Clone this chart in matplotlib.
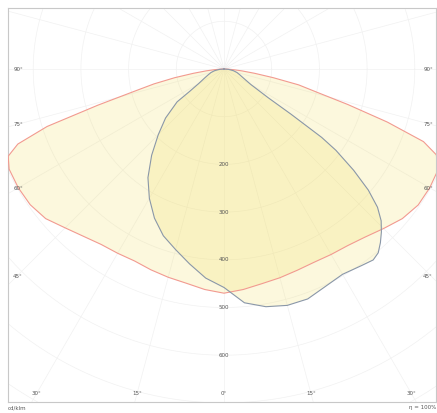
import numpy as np
import matplotlib.pyplot as plt

# Lichtstärkeverteilung in cd/klm, gamma = 0° zeigt nach unten
gamma_red = [0, 5, 10, 15, 20, 25, 30, 35, 40, 45, 50, 55, 60, 65, 68, 70, 72, 74, 76, 78, 80, 82, 84, 86, 88, 90]
red_left = [470, 464, 456, 452, 448, 444, 446, 449, 458, 471, 488, 496, 498, 497, 488, 460, 390, 275, 195, 150, 105, 65, 38, 20, 8, 0]
red_right = [470, 464, 457, 453, 449, 447, 449, 452, 460, 473, 488, 497, 498, 496, 480, 445, 360, 270, 200, 160, 105, 65, 38, 20, 8, 0]

gamma_blue_left = [0, 5, 10, 15, 20, 25, 30, 35, 40, 45, 50, 55, 57, 60, 65, 70, 75, 80, 85, 90]
blue_left = [458, 440, 415, 392, 372, 345, 313, 278, 236, 195, 160, 120, 85, 62, 45, 35, 28, 20, 10, 0]

gamma_blue_right = [0, 5, 10, 15, 20, 25, 30, 35, 38, 40, 42, 44, 46, 48, 50, 52, 54, 55, 56, 57, 60, 65, 70, 75, 80, 85, 90]
blue_right = [472, 492, 506, 513, 513, 503, 497, 503, 508, 503, 490, 475, 458, 433, 395, 345, 290, 250, 170, 110, 65, 45, 35, 28, 20, 10, 0]

ring_values = [200, 300, 400, 500, 600]
side_angles = [90, 75, 60, 45]
bottom_angles = [-30, -15, 0, 15, 30]

UNIT = 100.0  # cd/klm pro Gitterring


def to_xy(gammas, values, side):
    """Polarwerte (gamma, I) in x/y umrechnen, side=-1 links, +1 rechts"""
    g = np.radians(np.asarray(gammas, dtype=float))
    r = np.asarray(values, dtype=float) / UNIT
    return side * r * np.sin(g), -r * np.cos(g)


def outline(gammas_l, vals_l, gammas_r, vals_r):
    xl, yl = to_xy(gammas_l, vals_l, -1)
    xr, yr = to_xy(gammas_r, vals_r, 1)
    x = np.concatenate([xl[::-1], xr[1:]])
    y = np.concatenate([yl[::-1], yr[1:]])
    return x, y


fig = plt.figure(figsize=(4.37, 4.13), dpi=100)
ax = fig.add_axes([8 / 437, 11 / 413, 428 / 437, 394 / 413])
ax.set_xlim(-4.528, 4.444)
ax.set_ylim(-6.981, 1.279)
ax.set_aspect('equal')
ax.set_xticks([])
ax.set_yticks([])
for s in ax.spines.values():
    s.set_color('#c8c8c8')
    s.set_linewidth(0.8)

# Gitter: Ringe und Strahlen alle 15° (sehr blass)
t = np.linspace(0, 2 * np.pi, 400)
for r in range(1, 10):
    ax.plot(r * np.cos(t), r * np.sin(t), color='#f1f1f1', lw=0.5, zorder=0)
for a in range(0, 360, 15):
    ar = np.radians(a)
    ax.plot([0, 10 * np.cos(ar)], [0, 10 * np.sin(ar)], color='#f1f1f1', lw=0.5, zorder=0)

# C0/C180 und C90/C270
xr, yr = outline(gamma_red, red_left, gamma_red, red_right)
ax.fill(xr, yr, color='#f2e066', alpha=0.22, lw=0, zorder=1)
ax.plot(np.append(xr, xr[0]), np.append(yr, yr[0]), color='#f29a90', lw=0.8, zorder=3)

xb, yb = outline(gamma_blue_left, blue_left, gamma_blue_right, blue_right)
ax.fill(xb, yb, color='#f2e066', alpha=0.22, lw=0, zorder=2)
ax.plot(np.append(xb, xb[0]), np.append(yb, yb[0]), color='#8a97a8', lw=0.8, zorder=3)

# Beschriftungen
for v in ring_values:
    ax.text(0, -v / UNIT, str(v), fontsize=4, color='#555555', ha='center', va='center', zorder=4)

for a in side_angles:
    y = -4.35 / np.tan(np.radians(a))
    ax.text(-4.42, y, f"{a}°", fontsize=4, color='#555555', ha='left', va='center')
    ax.text(4.38, y, f"{a}°", fontsize=4, color='#555555', ha='right', va='center')

for a in bottom_angles:
    x = 6.8 * np.tan(np.radians(a))
    ax.text(x, -6.8, f"{abs(a)}°", fontsize=4, color='#555555', ha='center', va='center')

fig.text(8 / 437, 1 - 408 / 413, "cd/klm", fontsize=4, color='#555555', ha='left', va='center')
fig.text(436 / 437, 1 - 408 / 413, "η = 100%", fontsize=4, color='#555555', ha='right', va='center')

fig.savefig("out.png", dpi=100)
